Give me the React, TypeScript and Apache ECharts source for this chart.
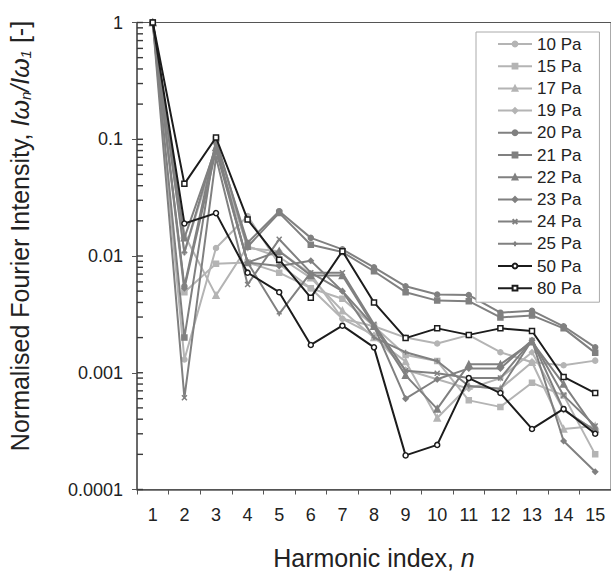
import React, { useEffect, useRef } from "react";
import * as echarts from "echarts";

const categories = ["1", "2", "3", "4", "5", "6", "7", "8", "9", "10", "11", "12", "13", "14", "15"];
const yTickLabels = ["0.0001", "0.001", "0.01", "0.1", "1"];
const yDecades = [0.0001, 0.001, 0.01, 0.1];
const yTickMultipliers = [1, 2, 3, 4, 5, 6, 7, 8, 9];
const seriesNames = ["10 Pa", "15 Pa", "17 Pa", "19 Pa", "20 Pa", "21 Pa", "22 Pa", "23 Pa", "24 Pa", "25 Pa", "50 Pa", "80 Pa"];

const p10 = [1, 0.0013, 0.0117, 0.022, 0.0085, 0.0053, 0.0029, 0.0025, 0.002, 0.00178, 0.0021, 0.0015, 0.00123, 0.00116, 0.00127];
const p15 = [1, 0.0049, 0.0086, 0.0088, 0.0072, 0.0053, 0.0043, 0.0025, 0.00142, 0.00126, 0.00058, 0.00051, 0.00082, 0.00064, 0.0002];
const p17 = [1, 0.0152, 0.0046, 0.0121, 0.0098, 0.0065, 0.0034, 0.002, 0.00125, 0.00041, 0.00077, 0.00073, 0.00123, 0.00033, 0.00035];
const p19 = [1, 0.0107, 0.08, 0.0117, 0.011, 0.007, 0.0029, 0.0021, 0.00106, 0.00088, 0.00073, 0.0009, 0.0015, 0.00048, 0.00032];
const p20 = [1, 0.0055, 0.095, 0.013, 0.0242, 0.0143, 0.0114, 0.008, 0.0055, 0.00468, 0.00463, 0.00327, 0.0034, 0.0025, 0.00165];
const p21 = [1, 0.002, 0.1, 0.012, 0.0234, 0.0125, 0.0108, 0.0074, 0.0049, 0.00415, 0.0041, 0.00298, 0.0031, 0.0024, 0.00148];
const p22 = [1, 0.0143, 0.085, 0.0088, 0.011, 0.0068, 0.0068, 0.0025, 0.00095, 0.00049, 0.00118, 0.00118, 0.00184, 0.0008, 0.00033];
const p23 = [1, 0.0053, 0.08, 0.0088, 0.0082, 0.0091, 0.005, 0.0025, 0.0006, 0.00088, 0.00109, 0.00109, 0.0019, 0.00026, 0.000142];
const p24 = [1, 0.00061, 0.07, 0.0057, 0.0139, 0.0072, 0.0072, 0.0026, 0.00104, 0.00099, 0.0009, 0.0009, 0.0019, 0.00064, 0.00035];
const p25 = [1, 0.0107, 0.09, 0.0088, 0.0032, 0.0072, 0.005, 0.002, 0.0015, 0.00126, 0.00077, 0.00073, 0.0019, 0.00048, 0.00032];
const p50 = [1, 0.019, 0.0233, 0.0072, 0.0049, 0.00173, 0.00253, 0.00165, 0.000196, 0.000241, 0.0009, 0.00067, 0.00033, 0.00049, 0.0003];
const p80 = [1, 0.0415, 0.1035, 0.0205, 0.0093, 0.0044, 0.011, 0.004, 0.00198, 0.0024, 0.00211, 0.0024, 0.00228, 0.00092, 0.00067];

const seriesData = [p10, p15, p17, p19, p20, p21, p22, p23, p24, p25, p50, p80];

const LIGHT = "#b4b4b4";
const MID = "#808080";
const DARK = "#1c1c1c";
const X_PATH = "path://M0,0L10,10M0,10L10,0";
const PLUS_PATH = "path://M5,0L5,10M0,5L10,5";

const styles = [
  { color: LIGHT, symbol: "circle", size: 5, hollow: false },
  { color: LIGHT, symbol: "rect", size: 5, hollow: false },
  { color: LIGHT, symbol: "triangle", size: 6, hollow: false },
  { color: LIGHT, symbol: "diamond", size: 5, hollow: false },
  { color: MID, symbol: "circle", size: 5, hollow: false },
  { color: MID, symbol: "rect", size: 5, hollow: false },
  { color: MID, symbol: "triangle", size: 6, hollow: false },
  { color: MID, symbol: "diamond", size: 5, hollow: false },
  { color: MID, symbol: X_PATH, size: 5, hollow: false },
  { color: MID, symbol: PLUS_PATH, size: 5, hollow: false },
  { color: DARK, symbol: "circle", size: 5, hollow: true },
  { color: DARK, symbol: "rect", size: 5, hollow: true },
];

const FONT = "Liberation Sans, Arial, sans-serif";

export default function App() {
  const ref = useRef<HTMLDivElement>(null);
  useEffect(() => {
    if (!ref.current) return;
    const chart = echarts.init(ref.current, undefined, { renderer: "svg" });
    const lineSeries = seriesNames.map((name, i) => {
      const s = styles[i];
      return {
        name,
        type: "line",
        data: seriesData[i],
        symbol: s.symbol,
        symbolSize: s.size,
        showAllSymbol: true,
        lineStyle: { color: s.color, width: 2 },
        itemStyle: {
          color: s.hollow ? "#ffffff" : s.color,
          borderColor: s.color,
          borderWidth: 1.5,
        },
        emphasis: { disabled: true },
        z: i < 4 ? 2 : i < 10 ? 3 : 4,
      };
    });
    const tickValues: number[][] = [];
    yDecades.forEach((d) => yTickMultipliers.forEach((k) => tickValues.push([0, d * k])));
    tickValues.push([0, 1]);
    const tickSeries = {
      name: "ticks",
      type: "scatter",
      xAxisIndex: 1,
      data: tickValues,
      symbol: "rect",
      symbolSize: [6, 1.4],
      symbolOffset: [3, 0],
      itemStyle: { color: "#3a3a3a", opacity: 1 },
      clip: false,
      silent: true,
      emphasis: { disabled: true },
      z: 6,
    };
    chart.setOption({
      animation: false,
      backgroundColor: "#ffffff",
      textStyle: { fontFamily: FONT },
      grid: {
        left: 137,
        top: 22.5,
        width: 475,
        height: 467,
        show: true,
        borderColor: "#555",
        borderWidth: 1,
        backgroundColor: "transparent",
      },
      legend: {
        orient: "vertical",
        left: 476,
        top: 32,
        padding: [3.5, 18, 5.5, 21],
        itemWidth: 34,
        itemHeight: 6,
        itemGap: 5.2,
        backgroundColor: "#ffffff",
        borderColor: "#aaaaaa",
        borderWidth: 1,
        data: seriesNames,
        textStyle: { fontSize: 17, color: "#222", fontFamily: FONT },
      },
      xAxis: [
        {
          type: "category",
          data: categories,
          boundaryGap: true,
          axisLine: { show: true, lineStyle: { color: "#555", width: 1.5 } },
          axisTick: { show: true, length: 5, lineStyle: { color: "#555" } },
          axisLabel: { fontSize: 18, color: "#222", margin: 16, fontFamily: FONT },
          splitLine: { show: false },
        },
        { type: "value", min: 0, max: 1, show: false },
      ],
      yAxis: {
        type: "log",
        logBase: 10,
        min: 0.0001,
        max: 1,
        axisLine: { show: true, lineStyle: { color: "#555", width: 1.5 } },
        axisTick: { show: true, length: 5, lineStyle: { color: "#555" } },
        axisLabel: {
          fontSize: 18,
          color: "#222",
          margin: 14,
          fontFamily: FONT,
          formatter: (v: number) => yTickLabels[Math.round(Math.log10(v)) + 4],
        },
        splitLine: { show: false },
      },
      graphic: [
        {
          type: "text",
          x: 374,
          y: 558,
          style: {
            text: "Harmonic index, {i|n}",
            fill: "#222",
            font: `25px ${FONT}`,
            align: "center",
            verticalAlign: "middle",
            rich: { i: { fontStyle: "italic", fontSize: 25, fontFamily: FONT, fill: "#222" } },
          },
        },
        {
          type: "text",
          x: 20,
          y: 236,
          rotation: Math.PI / 2,
          style: {
            text: "Normalised Fourier Intensity, {i|Iω}{s|n}{i|/Iω}{s|1} [-]",
            fill: "#222",
            font: `25px ${FONT}`,
            align: "center",
            verticalAlign: "middle",
            rich: {
              i: { fontStyle: "italic", fontSize: 25, fontFamily: FONT, fill: "#222" },
              s: { fontStyle: "italic", fontSize: 15, fontFamily: FONT, fill: "#222", verticalAlign: "bottom", padding: [8, 0, 0, 0] },
            },
          },
        },
      ],
      series: [...lineSeries, tickSeries],
    });
    return () => chart.dispose();
  }, []);
  return <div ref={ref} style={{ position: "fixed", left: 0, top: 0, width: 611, height: 572 }} />;
}
